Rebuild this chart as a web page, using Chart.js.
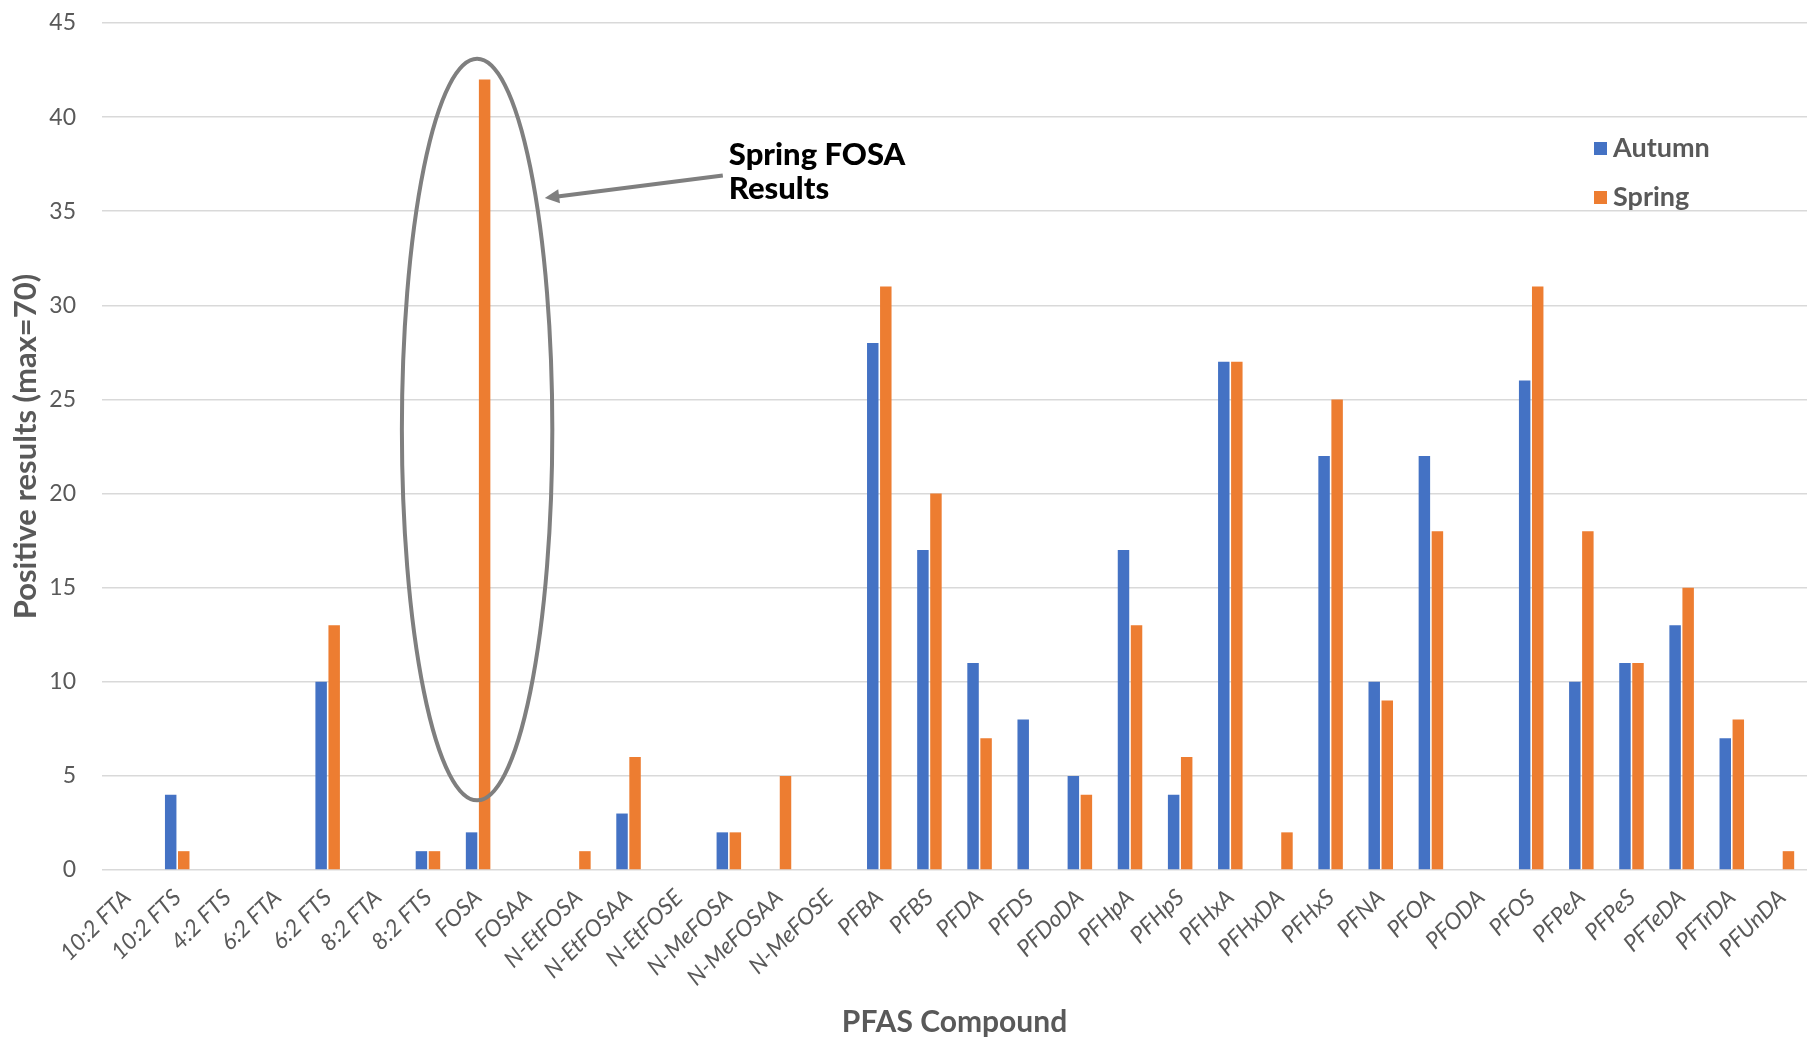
<!DOCTYPE html>
<html>
<head>
    <title>PFAS Compound results</title>
    <script src="https://cdn.jsdelivr.net/npm/chart.js"></script>
    <style>
        body { margin: 0; background: #fff; }
        #wrap { width: 1814px; height: 1040px; }
    </style>
</head>
<body>
    <div id="wrap">
        <canvas id="pfasChart" width="1814" height="1040"></canvas>
    </div>
<script>
// values
const compounds = ['10:2 FTA', '10:2 FTS', '4:2 FTS', '6:2 FTA', '6:2 FTS', '8:2 FTA', '8:2 FTS',
    'FOSA', 'FOSAA', 'N-EtFOSA', 'N-EtFOSAA', 'N-EtFOSE', 'N-MeFOSA', 'N-MeFOSAA', 'N-MeFOSE',
    'PFBA', 'PFBS', 'PFDA', 'PFDS', 'PFDoDA', 'PFHpA', 'PFHpS', 'PFHxA', 'PFHxDA', 'PFHxS',
    'PFNA', 'PFOA', 'PFODA', 'PFOS', 'PFPeA', 'PFPeS', 'PFTeDA', 'PFTrDA', 'PFUnDA'];
const autumn = [0, 4, 0, 0, 10, 0, 1, 2, 0, 0, 3, 0, 2, 0, 0,
    28, 17, 11, 8, 5, 17, 4, 27, 0, 22, 10, 22, 0, 26, 10, 11, 13, 7, 0];
const spring = [0, 1, 0, 0, 13, 0, 1, 42, 0, 1, 6, 0, 2, 5, 0,
    31, 20, 7, 0, 4, 13, 6, 27, 2, 25, 9, 18, 0, 31, 18, 11, 15, 8, 1];
const yMax = 45;
const yStep = 5;
const calloutTarget = 'FOSA';
const calloutText = ['Spring FOSA', 'Results'];

const grey = '#595959';
const font = 'Lato, "Open Sans", sans-serif';

// draws the ellipse + arrow callout and the legend inside the plot
const extras = {
    id: 'extras',
    afterDraw(chart) {
        const ctx = chart.ctx;
        const x = chart.scales.x, y = chart.scales.y;
        const step = x.getPixelForValue(1) - x.getPixelForValue(0);
        const i = compounds.indexOf(calloutTarget);
        const cx = x.getPixelForValue(i) - 1;
        const top = y.getPixelForValue(43.1);
        const bot = y.getPixelForValue(3.7);
        const cy = (top + bot) / 2, ry = (bot - top) / 2, rx = step * 1.5;

        ctx.save();
        ctx.strokeStyle = '#7f7f7f';
        ctx.lineWidth = 4;
        ctx.beginPath();
        ctx.ellipse(cx, cy, rx, ry, 0, 0, Math.PI * 2);
        ctx.stroke();

        // arrow
        const tipX = cx + rx * 0.9, tipY = y.getPixelForValue(35.7);
        const startX = cx + step * 4.9, startY = y.getPixelForValue(36.9);
        const ang = Math.atan2(startY - tipY, startX - tipX);
        const head = 16;
        ctx.fillStyle = '#7f7f7f';
        ctx.beginPath();
        ctx.moveTo(startX, startY);
        ctx.lineTo(tipX + Math.cos(ang) * head * 0.8, tipY + Math.sin(ang) * head * 0.8);
        ctx.stroke();
        ctx.beginPath();
        ctx.moveTo(tipX, tipY);
        ctx.lineTo(tipX + Math.cos(ang + 0.45) * head, tipY + Math.sin(ang + 0.45) * head);
        ctx.lineTo(tipX + Math.cos(ang - 0.45) * head, tipY + Math.sin(ang - 0.45) * head);
        ctx.closePath();
        ctx.fill();

        ctx.fillStyle = '#000';
        ctx.font = '900 31px ' + font;
        ctx.textBaseline = 'middle';
        ctx.textAlign = 'left';
        calloutText.forEach((t, k) => {
            ctx.fillText(t, startX + 6, y.getPixelForValue(38.0) + k * 34);
        });

        // legend
        const lx = chart.chartArea.right - 213;
        ctx.font = 'bold 27px ' + font;
        chart.data.datasets.forEach((ds, k) => {
            const ly = chart.chartArea.top + 125 + k * 49;
            ctx.fillStyle = ds.backgroundColor;
            ctx.fillRect(lx, ly - 6, 13, 13);
            ctx.fillStyle = grey;
            ctx.fillText(ds.label, lx + 19, ly);
        });
        ctx.restore();
    }
};

const chart = new Chart(document.getElementById('pfasChart'), {
    type: 'bar',
    data: {
        labels: compounds,
        datasets: [
            { label: 'Autumn', data: autumn, backgroundColor: '#4472C4', categoryPercentage: 0.52, barPercentage: 0.88 },
            { label: 'Spring', data: spring, backgroundColor: '#ED7D31', categoryPercentage: 0.52, barPercentage: 0.88 }
        ]
    },
    options: {
        responsive: false,
        animation: false,
        layout: { padding: { top: 23, right: 7, left: 0, bottom: 0 } },
        plugins: {
            legend: { display: false },
            tooltip: { enabled: false }
        },
        scales: {
            x: {
                grid: { display: false },
                border: { display: false },
                ticks: {
                    color: grey,
                    font: { family: font, size: 23, style: 'italic' },
                    minRotation: 45,
                    maxRotation: 45,
                    padding: 6,
                    autoSkip: false
                },
                title: {
                    display: true,
                    text: 'PFAS Compound',
                    color: grey,
                    font: { family: font, size: 30, weight: 'bold' },
                    padding: { top: 0, bottom: 0 }
                },
                afterFit(scale) { scale.height = 170; }
            },
            y: {
                min: 0,
                max: yMax,
                // invisible tick marks push the labels left without adding top padding
                grid: { color: '#d9d9d9', lineWidth: 1.5, drawTicks: true, tickLength: 18, tickColor: 'rgba(0,0,0,0)' },
                border: { display: false },
                ticks: {
                    stepSize: yStep,
                    color: grey,
                    font: { family: font, size: 23 },
                    padding: 8
                },
                title: {
                    display: true,
                    text: 'Positive results (max=70)',
                    color: grey,
                    font: { family: font, size: 31, weight: 'bold' },
                    padding: { top: 7, bottom: 0 }
                },
                afterFit(scale) { scale.width = 102; }
            }
        }
    },
    plugins: [extras]
});
</script>
</body>
</html>
